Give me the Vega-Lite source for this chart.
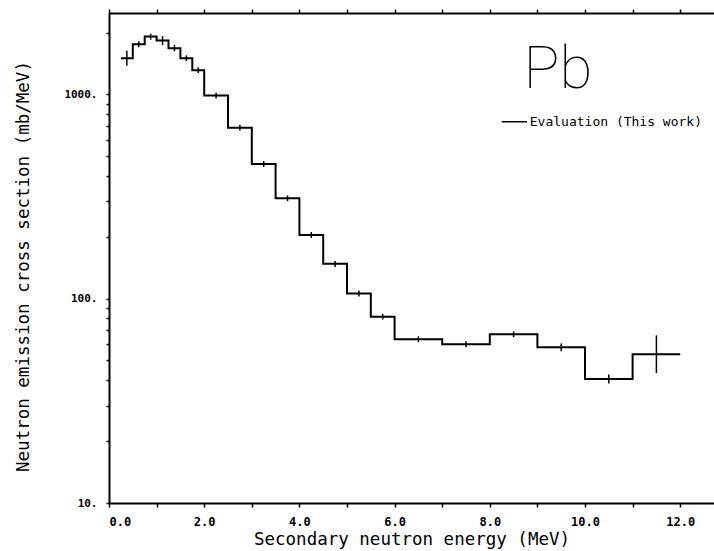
{
  "$schema": "https://vega.github.io/schema/vega-lite/v6.json",
  "width": 605,
  "height": 490,
  "autosize": {"type": "none"},
  "padding": {"left": 109, "top": 13, "right": 0, "bottom": 48},
  "background": "white",
  "config": {
    "view": {"stroke": null},
    "axis": {
      "domainColor": "black",
      "domainWidth": 2,
      "tickColor": "black",
      "tickWidth": 1.5,
      "grid": false,
      "labelColor": "black",
      "titleColor": "black",
      "labelFont": "DejaVu Sans Mono",
      "labelFontWeight": "bold",
      "titleFont": "DejaVu Sans Mono",
      "titleFontWeight": "normal"
    }
  },
  "datasets": {
    "bins": [
      {"e_lo": 0.25, "e_hi": 0.5, "e_mid": 0.375, "sigma": 1503, "err_lo": 1380, "err_hi": 1635},
      {"e_lo": 0.5, "e_hi": 0.75, "e_mid": 0.625, "sigma": 1759, "err_lo": 1700, "err_hi": 1820},
      {"e_lo": 0.75, "e_hi": 1.0, "e_mid": 0.875, "sigma": 1916, "err_lo": 1850, "err_hi": 1980},
      {"e_lo": 1.0, "e_hi": 1.25, "e_mid": 1.125, "sigma": 1832, "err_lo": 1740, "err_hi": 1925},
      {"e_lo": 1.25, "e_hi": 1.5, "e_mid": 1.375, "sigma": 1682, "err_lo": 1625, "err_hi": 1740},
      {"e_lo": 1.5, "e_hi": 1.75, "e_mid": 1.625, "sigma": 1503, "err_lo": 1455, "err_hi": 1550},
      {"e_lo": 1.75, "e_hi": 2.0, "e_mid": 1.875, "sigma": 1312, "err_lo": 1270, "err_hi": 1355},
      {"e_lo": 2.0, "e_hi": 2.5, "e_mid": 2.25, "sigma": 986, "err_lo": 955, "err_hi": 1018},
      {"e_lo": 2.5, "e_hi": 3.0, "e_mid": 2.75, "sigma": 687, "err_lo": 665, "err_hi": 710},
      {"e_lo": 3.0, "e_hi": 3.5, "e_mid": 3.25, "sigma": 456, "err_lo": 441, "err_hi": 471},
      {"e_lo": 3.5, "e_hi": 4.0, "e_mid": 3.75, "sigma": 310, "err_lo": 300, "err_hi": 320},
      {"e_lo": 4.0, "e_hi": 4.5, "e_mid": 4.25, "sigma": 205, "err_lo": 198, "err_hi": 212},
      {"e_lo": 4.5, "e_hi": 5.0, "e_mid": 4.75, "sigma": 148, "err_lo": 143, "err_hi": 153},
      {"e_lo": 5.0, "e_hi": 5.5, "e_mid": 5.25, "sigma": 106, "err_lo": 102.5, "err_hi": 109.5},
      {"e_lo": 5.5, "e_hi": 6.0, "e_mid": 5.75, "sigma": 81.6, "err_lo": 79, "err_hi": 84.3},
      {"e_lo": 6.0, "e_hi": 7.0, "e_mid": 6.5, "sigma": 63.3, "err_lo": 61.2, "err_hi": 65.4},
      {"e_lo": 7.0, "e_hi": 8.0, "e_mid": 7.5, "sigma": 59.8, "err_lo": 57.8, "err_hi": 61.8},
      {"e_lo": 8.0, "e_hi": 9.0, "e_mid": 8.5, "sigma": 67.0, "err_lo": 64.8, "err_hi": 69.2},
      {"e_lo": 9.0, "e_hi": 10.0, "e_mid": 9.5, "sigma": 57.8, "err_lo": 55.3, "err_hi": 60.4},
      {"e_lo": 10.0, "e_hi": 11.0, "e_mid": 10.5, "sigma": 40.4, "err_lo": 38.4, "err_hi": 42.5},
      {"e_lo": 11.0, "e_hi": 12.0, "e_mid": 11.5, "sigma": 53.5, "err_lo": 43.3, "err_hi": 66.1}
    ],
    "labels": [
      {"kind": "element", "x": 9.43, "y": 1315, "text": "Pb"},
      {"kind": "legend", "x": 8.84, "y": 734, "text": "Evaluation (This work)"}
    ],
    "legendline": [
      {"x": 8.25, "x2": 8.78, "y": 734}
    ]
  },
  "layer": [
    {
      "data": {"name": "bins"},
      "transform": [{"fold": ["e_hi", "e_lo"], "as": ["edge", "energy"]}],
      "mark": {"type": "line", "color": "black", "strokeWidth": 2},
      "encoding": {
        "x": {
          "field": "energy", "type": "quantitative",
          "scale": {"domain": [0, 12.71], "nice": false, "zero": false},
          "axis": {
            "orient": "bottom",
            "values": [0, 1, 2, 3, 4, 5, 6, 7, 8, 9, 10, 11, 12],
            "labelExpr": "datum.value % 2 == 0 ? format(datum.value, '.1f') : ''",
            "labelFontSize": 12,
            "labelPadding": 9,
            "tickSize": 4,
            "title": "Secondary neutron energy (MeV)",
            "titleFontSize": 17.5,
            "titlePadding": 3
          }
        },
        "y": {
          "field": "sigma", "type": "quantitative",
          "scale": {"type": "log", "domain": [10, 2500], "nice": false},
          "axis": {
            "values": [10, 20, 30, 40, 50, 60, 70, 80, 90, 100, 200, 300, 400, 500, 600, 700, 800, 900, 1000, 2000],
            "labelExpr": "datum.value == 10 || datum.value == 100 || datum.value == 1000 ? datum.value + '.' : ''",
            "labelFontSize": 11,
            "labelPadding": 9,
            "tickSize": 3,
            "title": "Neutron emission cross section (mb/MeV)",
            "titleFontSize": 17.5,
            "titlePadding": 31,
            "titleY": 253
          }
        },
        "order": [{"field": "energy", "type": "quantitative"}, {"field": "edge", "type": "nominal"}]
      }
    },
    {
      "data": {"name": "bins"},
      "mark": {"type": "rule", "color": "black", "strokeWidth": 1.5},
      "encoding": {
        "x": {
          "field": "e_mid", "type": "quantitative",
          "axis": {
            "orient": "top",
            "values": [0, 1, 2, 3, 4, 5, 6, 7, 8, 9, 10, 11, 12],
            "labels": false,
            "tickSize": 4,
            "title": null
          }
        },
        "y": {"field": "err_lo", "type": "quantitative"},
        "y2": {"field": "err_hi"}
      }
    },
    {
      "data": {"name": "legendline"},
      "mark": {"type": "rule", "color": "black", "strokeWidth": 1.5},
      "encoding": {
        "x": {"field": "x", "type": "quantitative", "axis": null},
        "x2": {"field": "x2"},
        "y": {"field": "y", "type": "quantitative"}
      }
    },
    {
      "data": {"name": "labels"},
      "transform": [{"filter": "datum.kind == 'element'"}],
      "mark": {"type": "text", "font": "Roboto", "fontWeight": 100, "fontSize": 60, "align": "center", "baseline": "middle", "color": "black"},
      "encoding": {
        "x": {"field": "x", "type": "quantitative", "axis": null},
        "y": {"field": "y", "type": "quantitative"},
        "text": {"field": "text"}
      }
    },
    {
      "data": {"name": "labels"},
      "transform": [{"filter": "datum.kind == 'legend'"}],
      "mark": {"type": "text", "font": "DejaVu Sans Mono", "fontSize": 13, "align": "left", "baseline": "middle", "color": "black"},
      "encoding": {
        "x": {"field": "x", "type": "quantitative", "axis": null},
        "y": {"field": "y", "type": "quantitative"},
        "text": {"field": "text"}
      }
    }
  ],
  "resolve": {"axis": {"x": "independent"}}
}
